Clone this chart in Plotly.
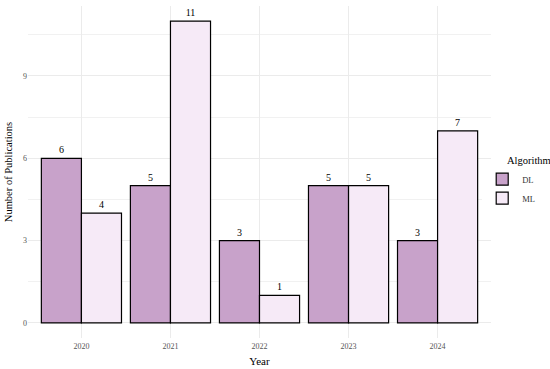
import plotly.graph_objects as go

years = ["2020", "2021", "2022", "2023", "2024"]
dl = [6, 5, 3, 5, 3]
ml = [4, 11, 1, 5, 7]
y_ticks = [0, 3, 6, 9]

font_family = "Liberation Serif, Times New Roman, serif"

fig = go.Figure()
fig.add_trace(go.Bar(
    x=years, y=dl, name="DL",
    marker=dict(color="#C8A2CA", line=dict(color="black", width=1.2)),
    text=[str(v) for v in dl], textposition="outside",
    textfont=dict(color="black", size=10, family=font_family),
    cliponaxis=False,
))
fig.add_trace(go.Bar(
    x=years, y=ml, name="ML",
    marker=dict(color="#F6EAF7", line=dict(color="black", width=1.2)),
    text=[str(v) for v in ml], textposition="outside",
    textfont=dict(color="black", size=10, family=font_family),
    cliponaxis=False,
))

fig.add_annotation(
    text="Algorithm", xref="paper", yref="paper",
    x=1.03, y=0.536, xanchor="left", yanchor="middle",
    showarrow=False, font=dict(size=10.5, color="black", family=font_family),
)

fig.update_layout(
    width=550, height=369,
    margin=dict(l=28, r=59, t=6, b=31, autoexpand=False),
    paper_bgcolor="white", plot_bgcolor="white",
    barmode="group", bargap=0.1, bargroupgap=0,
    font=dict(family=font_family, color="black"),
    legend=dict(
        x=0.981, xanchor="left", y=0.522, yanchor="top",
        font=dict(size=8.5, color="#333333"),
        itemwidth=30,
    ),
    xaxis=dict(
        type="category", range=[-0.6, 4.6],
        showgrid=True, gridcolor="#EBEBEB", gridwidth=1,
        showline=False, zeroline=False, ticks="",
        tickfont=dict(size=8, color="#555555"),
        ticklabelstandoff=2,
        title=dict(text="Year", font=dict(size=11, color="black"), standoff=7),
        automargin=False,
    ),
    yaxis=dict(
        range=[-0.55, 11.55],
        tickvals=y_ticks, ticktext=[str(v) for v in y_ticks],
        showgrid=True, gridcolor="#EBEBEB", gridwidth=1,
        minor=dict(tickvals=[1.5, 4.5, 7.5, 10.5], showgrid=True, gridcolor="#F1F1F1", gridwidth=1),
        zeroline=False, showline=False, ticks="",
        tickfont=dict(size=8, color="#555555"),
        title=dict(text="Number of Publications", font=dict(size=10.5, color="black"), standoff=8),
        automargin=False,
    ),
)

fig.write_html("out.html", config={"displayModeBar": False},
               post_script="document.body.style.margin='0';")
